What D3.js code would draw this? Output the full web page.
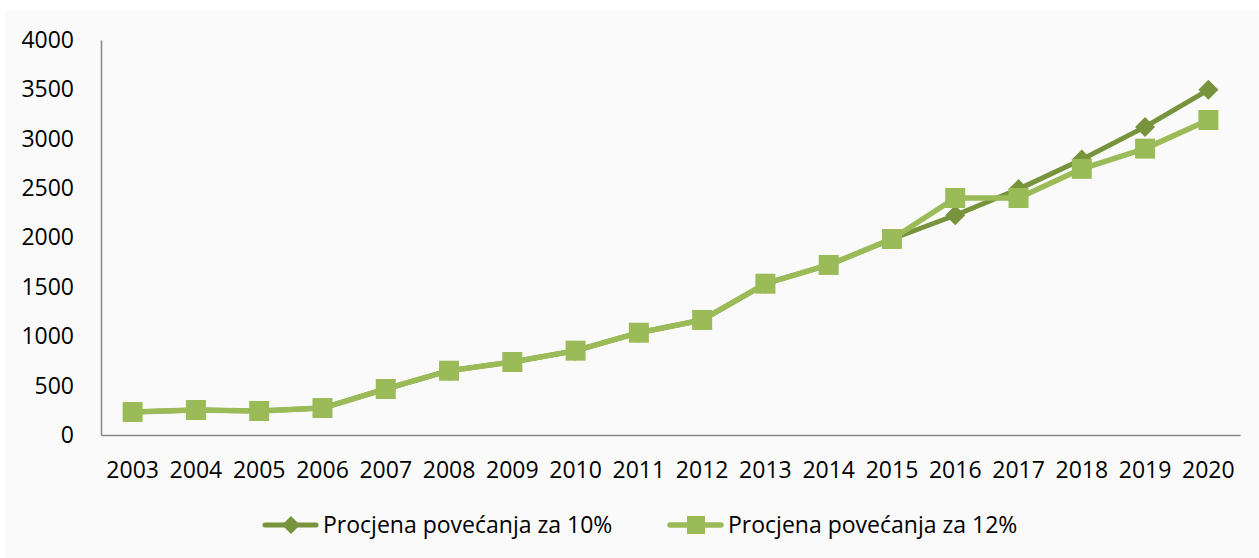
<!DOCTYPE html>
<html>
<head>
<meta charset="utf-8">
<script src="https://cdn.jsdelivr.net/npm/d3@7"></script>
<style>
  body { margin: 0; background: #ffffff; }
  text { font-family: "Open Sans", sans-serif; fill: #000; }
</style>
</head>
<body>
<svg id="chart"></svg>
<script>
const years = ['2003', '2004', '2005', '2006', '2007', '2008', '2009', '2010', '2011',
    '2012', '2013', '2014', '2015', '2016', '2017', '2018', '2019', '2020']
const growth10 = [233, 253, 243, 273, 466, 651, 739, 854, 1036, 1165, 1532, 1722, 1985,
    2225, 2490, 2790, 3120, 3495]
const growth12 = [233, 253, 243, 273, 466, 651, 739, 854, 1036, 1165, 1532, 1722, 1985,
    2400, 2400, 2695, 2900, 3190]
const yTicks = [0, 500, 1000, 1500, 2000, 2500, 3000, 3500, 4000]
const seriesNames = ['Procjena povećanja za 10%', 'Procjena povećanja za 12%']

const W = 1259
const H = 558
const margin = { top: 40, right: 19, bottom: 123, left: 101 }
const fontSize = 23

const svg = d3.select('#chart')
    .attr('width', W)
    .attr('height', H)

svg.append('rect')
    .attr('x', 6).attr('y', 10)
    .attr('width', W - 6).attr('height', H - 10)
    .attr('fill', '#fafafa')

const x = d3.scaleBand()
    .domain(years)
    .range([margin.left, W - margin.right])
    .padding(0)

const y = d3.scaleLinear()
    .domain([0, 4000])
    .range([H - margin.bottom, margin.top])

// y axis
const yAxis = svg.append('g')
    .attr('transform', `translate(${margin.left},0)`)
    .call(d3.axisLeft(y).tickValues(yTicks).tickFormat(d3.format('d')).tickSize(0).tickPadding(27))
yAxis.select('.domain').attr('stroke', '#868686').attr('stroke-width', 1.5)
yAxis.selectAll('text').attr('font-size', fontSize).attr('font-family', '"Open Sans", sans-serif')

// x axis
const xAxis = svg.append('g')
    .attr('transform', `translate(0,${H - margin.bottom})`)
    .call(d3.axisBottom(x).tickSize(0).tickPadding(27))
xAxis.select('.domain').attr('stroke', '#868686').attr('stroke-width', 1.5)
xAxis.selectAll('text').attr('font-size', fontSize).attr('font-family', '"Open Sans", sans-serif')

const cx = d => x(d) + x.bandwidth() / 2

const line = d3.line()
    .x((d, i) => cx(years[i]))
    .y(d => y(d))

const series = [
    { name: seriesNames[0], values: growth10, color: '#77933c', width: 5, shape: 'diamond' },
    { name: seriesNames[1], values: growth12, color: '#9bbb59', width: 5.5, shape: 'square' }
]

const symbolPath = (shape) => shape === 'diamond'
    ? 'M0,-10L10,0L0,10L-10,0Z'
    : 'M-10,-10H10V10H-10Z'

series.forEach(s => {
    svg.append('path')
        .datum(s.values)
        .attr('fill', 'none')
        .attr('stroke', s.color)
        .attr('stroke-width', s.width)
        .attr('stroke-linejoin', 'round')
        .attr('d', line)

    svg.selectAll(null)
        .data(s.values)
        .enter()
        .append('path')
        .attr('d', symbolPath(s.shape))
        .attr('transform', (d, i) => `translate(${cx(years[i])},${y(d)})`)
        .attr('fill', s.color)
})

// legend
const legendX = [263, 668]
series.forEach((s, i) => {
    const g = svg.append('g').attr('transform', `translate(${legendX[i]},525)`)
    g.append('line')
        .attr('x1', 2).attr('x2', 53)
        .attr('stroke', s.color)
        .attr('stroke-width', s.width)
        .attr('stroke-linecap', 'round')
    g.append('path')
        .attr('d', symbolPath(s.shape))
        .attr('transform', `translate(${i === 0 ? 28 : 28},0) scale(0.9)`)
        .attr('fill', s.color)
    g.append('text')
        .attr('x', 60)
        .attr('dy', '0.35em')
        .attr('font-size', fontSize)
        .text(s.name)
})
</script>
</body>
</html>
